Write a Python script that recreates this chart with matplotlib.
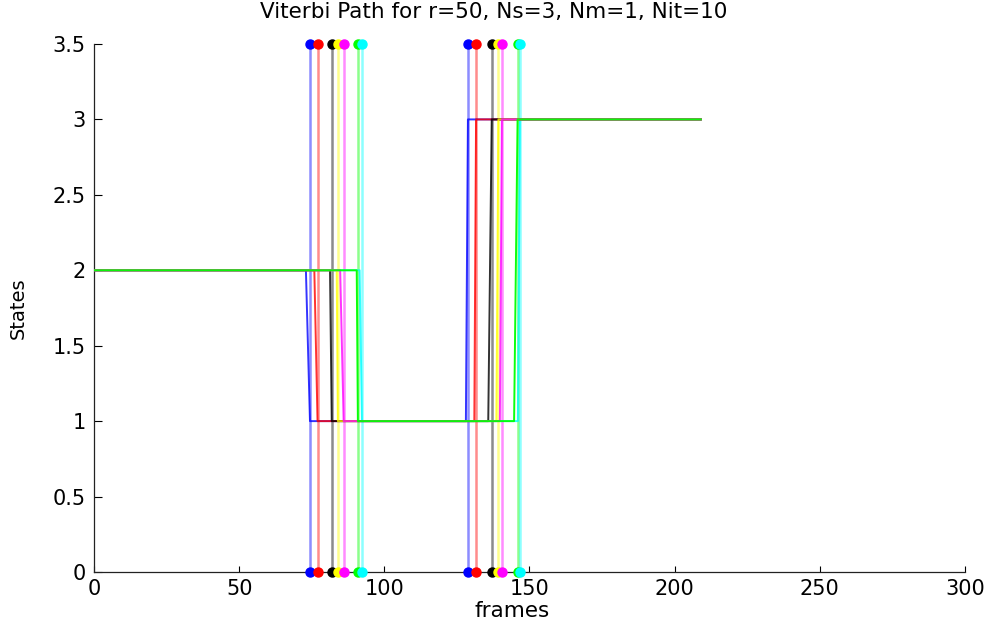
import matplotlib
matplotlib.use("Agg")
import matplotlib.pyplot as plt

plt.rcParams['font.family'] = ['DejaVu Sans']

colors = ['b', 'r', 'k', 'y', 'm', 'g', 'c']
color_map = {'b': '#0000ff', 'r': '#ff0000', 'k': '#000000', 'y': '#ffff00',
             'm': '#ff00ff', 'g': '#00ff00', 'c': '#00ffff'}

# boundary (segment change) frames, first and second boundary per iteration
boundary1 = [74.4, 77.0, 81.9, 84.0, 86.0, 90.9, 92.3]
boundary2 = [128.8, 131.6, 137.0, 139.3, 140.5, 145.9, 146.7]

# viterbi state path change points per iteration
drop_start = [73.0, 75.9, 81.3, 83.6, 84.8, 90.5, 91.5]
rise_start = [128.1, 131.0, 135.8, 138.6, 139.8, 144.7, 146.0]
path_end = 209
state_a, state_b, state_c = 2, 1, 3

path_alpha = [0.8, 0.8, 0.8, 0.8, 0.8, 0.95, 0.8]

fig = plt.figure(figsize=(9.87, 6.23), dpi=100)
ax = fig.add_axes([0.0952, 0.0819, 0.8825, 0.8475])

# state paths (cyan first so green stays on top)
order = [6, 0, 1, 2, 3, 4, 5]
for i in order:
    c = color_map[colors[i]]
    xs = [0, drop_start[i], boundary1[i], rise_start[i], boundary2[i], path_end]
    ys = [state_a, state_a, state_b, state_b, state_c, state_c]
    ax.plot(xs, ys, color=c, lw=1.4, alpha=path_alpha[i], zorder=3)

# boundary stems with markers
for i, col in enumerate(colors):
    c = color_map[col]
    for bx in (boundary1[i], boundary2[i]):
        ax.plot([bx, bx], [0, 3.5], color=c, lw=1.8, alpha=0.45, zorder=2)
        ax.plot([bx, bx], [0, 3.5], linestyle='none', marker='o', ms=6.5,
                mfc=c, mec=c, zorder=4, clip_on=False)

ax.set_xlim(0, 300)
ax.set_ylim(0, 3.5)
ax.set_xticks([0, 50, 100, 150, 200, 250, 300])
ax.set_yticks([0, 0.5, 1, 1.5, 2, 2.5, 3, 3.5])
ax.set_yticklabels(['0', '0.5', '1', '1.5', '2', '2.5', '3', '3.5'])
ax.spines['top'].set_visible(False)
ax.spines['right'].set_visible(False)
for s in ('left', 'bottom'):
    ax.spines[s].set_linewidth(0.9)
    ax.spines[s].set_color('#222222')
ax.tick_params(axis='x', direction='in', length=4, width=0.8, labelsize=15, pad=5)
ax.tick_params(axis='y', direction='in', length=6, width=0.8, labelsize=15, pad=6)

fig.text(512 / 987, 1 - 611 / 623, 'frames', fontsize=15.5, ha='center', va='center')
ax.set_ylabel('States', fontsize=14, labelpad=18)
fig.text(0.5, 1 - 12 / 623, 'Viterbi Path for r=50, Ns=3, Nm=1, Nit=10',
         fontsize=15.5, ha='center', va='center')

fig.savefig('out.png', dpi=100)
